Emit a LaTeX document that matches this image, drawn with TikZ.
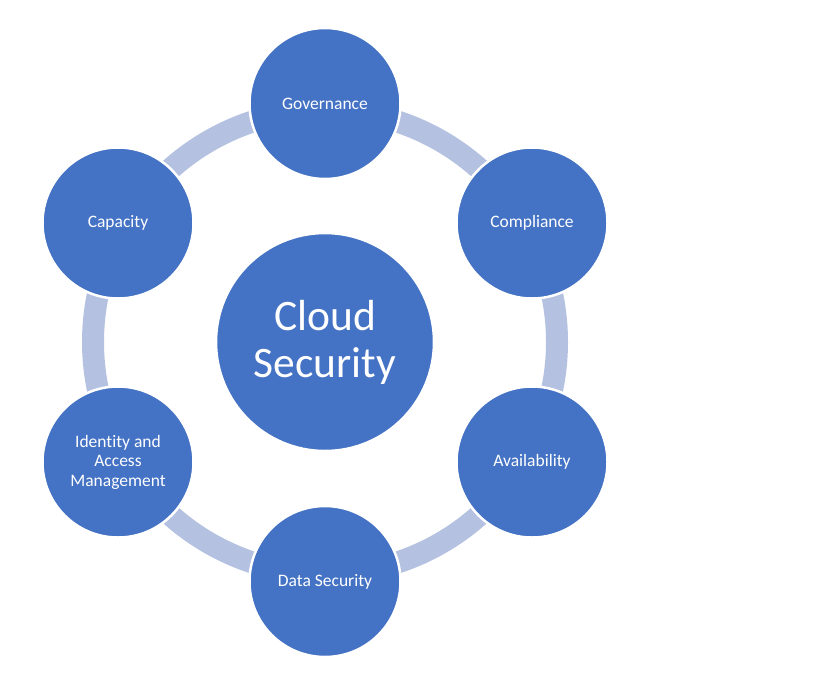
\documentclass[tikz,border=0pt]{standalone}
\usepackage{fontspec}
\setmainfont{Carlito}[Ligatures={NoCommon}]
\definecolor{fillblue}{RGB}{68,114,196}
\definecolor{ringblue}{RGB}{180,193,224}
\begin{document}
\begin{tikzpicture}[x=1pt,y=-1pt,
  ring/.style={draw=ringblue,line width=22pt},
  sat/.style={circle,fill=fillblue,draw=white,line width=2.5pt,minimum size=151pt,inner sep=0pt,text=white,align=center,font=\fontsize{17.5}{19.5}\selectfont},
  hub/.style={circle,fill=fillblue,draw=white,line width=2.5pt,minimum size=218pt,inner sep=0pt,text=white,align=center,font=\fontsize{43.5}{47}\selectfont}]
\useasboundingbox[fill=white] (0,0) rectangle (819,686);
\coordinate (c) at (325,342);
\draw[ring] (c) circle[radius=232pt];
\node[hub] (hub) at (c) {Cloud\\Security};
\node[sat] (gov) at (325,103.5) {Governance};
\node[sat] (comp) at (532,223) {Compliance};
\node[sat] (avail) at (532,462) {Availability};
\node[sat] (data) at (325,581.5) {Data Security};
\node[sat] (iam) at (118,462) {Identity and\\Access\\Management};
\node[sat] (cap) at (118,223) {Capacity};
\end{tikzpicture}
\end{document}
